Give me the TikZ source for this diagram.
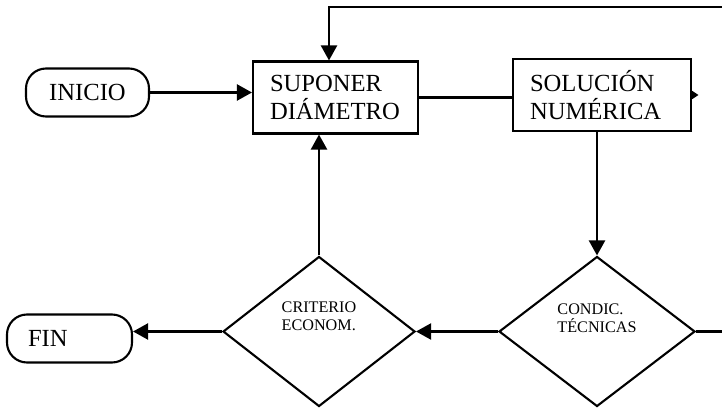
\documentclass[tikz,border=0pt]{standalone}
\usepackage{fontspec}
\setmainfont{Liberation Serif}
\usetikzlibrary{arrows.meta,shapes.geometric}

\begin{document}
\begin{tikzpicture}[
    term/.style={draw, line width=1.2pt, rounded corners=0.4cm, minimum width=2.46cm, minimum height=0.96cm, font=\fontsize{14}{16}\selectfont},
    proc/.style={draw, line width=1.2pt, inner xsep=0.34cm, align=left, minimum height=1.44cm, font=\fontsize{14}{15.5}\selectfont},
    dec/.style={draw, line width=1.2pt, diamond, minimum height=3cm, inner sep=0pt},
    dtext/.style={align=left, font=\fontsize{9.2}{10.2}\selectfont},
    arr/.style={line width=1.3pt, -{Triangle[width=0.32cm,length=0.3cm]}},
    smalltip/.style={line width=1.2pt, -{Triangle[width=0.16cm,length=0.13cm]}},
    link/.style={line width=1.3pt}
]
    \useasboundingbox (0,0) rectangle (14.44,8.2);

    % Top row
    \node[term] (inicio) at (1.75,6.35) {INICIO};
    \node[proc, text width=2.62cm] (sup) at (6.71,6.25) {SUPONER\\DIÁMETRO};
    \node[proc, text width=2.88cm] (sol) at (12.04,6.3) {SOLUCIÓN\\NUMÉRICA};

    % Bottom row
    \node[term, text width=1.66cm, inner xsep=0.42cm, align=left] (fin) at (1.39,1.43) {FIN};
    \node[dec, minimum width=3.84cm] (crit) at (6.38,1.57) {};
    \node[dtext] (critlabel) at ([yshift=0.3cm]crit.center) {CRITERIO\\ECONOM.};
    \node[dec, minimum width=3.92cm] (cond) at (11.94,1.57) {};
    \node[dtext] (condlabel) at ([yshift=0.27cm]cond.center) {CONDIC.\\TÉCNICAS};

    % Right edge, where the loop comes back
    \coordinate (back) at (14.44,8.06);

    % Connections
    \draw[arr] (inicio.east) -- (inicio.east -| sup.west);
    \draw[link] (sup.east) -- (sup.east -| sol.west);
    \draw[smalltip] (sol.east) -- ++(0.13,0);
    \draw[arr] (back) -| ([xshift=-0.13cm]sup.north);
    \draw[arr] (sol.south -| cond.north) -- (cond.north);
    \draw[arr] (cond.west) -- (crit.east);
    \draw[arr] (crit.north) -- (crit.north |- sup.south);
    \draw[arr] (crit.west) -- (crit.west -| fin.east);
    \draw[link] (cond.east) -- (cond.east -| back);
\end{tikzpicture}
\end{document}
